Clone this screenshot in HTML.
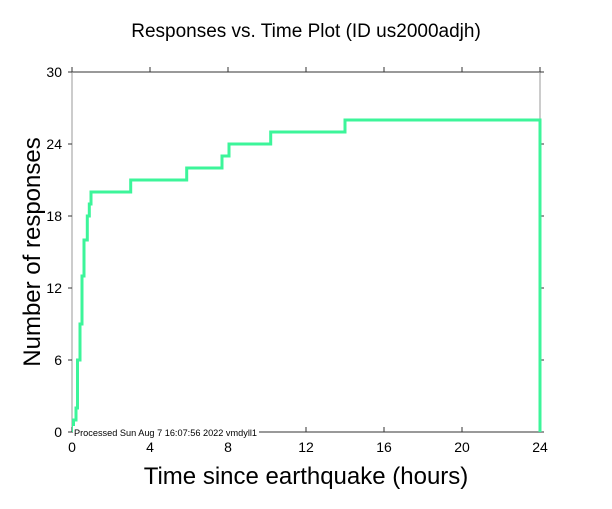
<!DOCTYPE html>
<html><head><style>body{margin:0;background:#fff}</style></head><body>
<svg width="612" height="504" xmlns="http://www.w3.org/2000/svg" font-family="Liberation Sans, sans-serif">
<rect width="612" height="504" fill="#fff"/>
<text x="306" y="37" font-size="19" text-anchor="middle">Responses vs. Time Plot (ID us2000adjh)</text>
<line x1="72" y1="72" x2="540" y2="72" stroke="#333" stroke-width="1"/>
<line x1="72" y1="432" x2="540" y2="432" stroke="#333" stroke-width="1"/>
<line x1="72" y1="72" x2="72" y2="432" stroke="#999" stroke-width="1"/>
<line x1="540" y1="72" x2="540" y2="432" stroke="#999" stroke-width="1"/>
<g stroke="#333" stroke-width="1">
<line x1="72" y1="432" x2="72" y2="427"/><line x1="150" y1="432" x2="150" y2="427"/><line x1="228" y1="432" x2="228" y2="427"/><line x1="306" y1="432" x2="306" y2="427"/><line x1="384" y1="432" x2="384" y2="427"/><line x1="462" y1="432" x2="462" y2="427"/><line x1="540" y1="432" x2="540" y2="427"/>
<line x1="72" y1="67" x2="72" y2="72"/><line x1="150" y1="67" x2="150" y2="72"/><line x1="228" y1="67" x2="228" y2="72"/><line x1="306" y1="67" x2="306" y2="72"/><line x1="384" y1="67" x2="384" y2="72"/><line x1="462" y1="67" x2="462" y2="72"/><line x1="540" y1="67" x2="540" y2="72"/>
<line x1="68" y1="72" x2="72" y2="72"/><line x1="68" y1="144" x2="72" y2="144"/><line x1="68" y1="216" x2="72" y2="216"/><line x1="68" y1="288" x2="72" y2="288"/><line x1="68" y1="360" x2="72" y2="360"/><line x1="68" y1="432" x2="72" y2="432"/>
<line x1="540" y1="72" x2="544" y2="72"/><line x1="540" y1="144" x2="544" y2="144"/><line x1="540" y1="216" x2="544" y2="216"/><line x1="540" y1="288" x2="544" y2="288"/><line x1="540" y1="360" x2="544" y2="360"/><line x1="540" y1="432" x2="544" y2="432"/>
</g>
<g font-size="14" text-anchor="middle">
<text x="72" y="452">0</text><text x="150" y="452">4</text><text x="228" y="452">8</text><text x="306" y="452">12</text><text x="384" y="452">16</text><text x="462" y="452">20</text><text x="540" y="452">24</text>
</g>
<g font-size="14" text-anchor="end">
<text x="62" y="77">30</text><text x="62" y="149">24</text><text x="62" y="221">18</text><text x="62" y="293">12</text><text x="62" y="365">6</text><text x="62" y="437">0</text>
</g>
<text x="306" y="484" font-size="24" text-anchor="middle">Time since earthquake (hours)</text>
<text transform="translate(40,252) rotate(-90)" font-size="24" text-anchor="middle">Number of responses</text>
<polyline fill="none" stroke="#3cf59a" stroke-width="3" points="73.5,432 73.5,420 76,420 76,408 77.5,408 77.5,360 80,360 80,324 82,324 82,276 84,276 84,240 87.3,240 87.3,216 89.3,216 89.3,204 91,204 91,192 130.7,192 130.7,180 186.7,180 186.7,168 222,168 222,156 229,156 229,144 270.7,144 270.7,132 345,132 345,120 540,120 540,432"/>
<rect x="73" y="426" width="186" height="11" fill="#fff"/>
<text x="74" y="436" font-size="9.5" textLength="183" lengthAdjust="spacingAndGlyphs">Processed Sun Aug  7 16:07:56 2022 vmdyll1</text>
</svg>
</body></html>
